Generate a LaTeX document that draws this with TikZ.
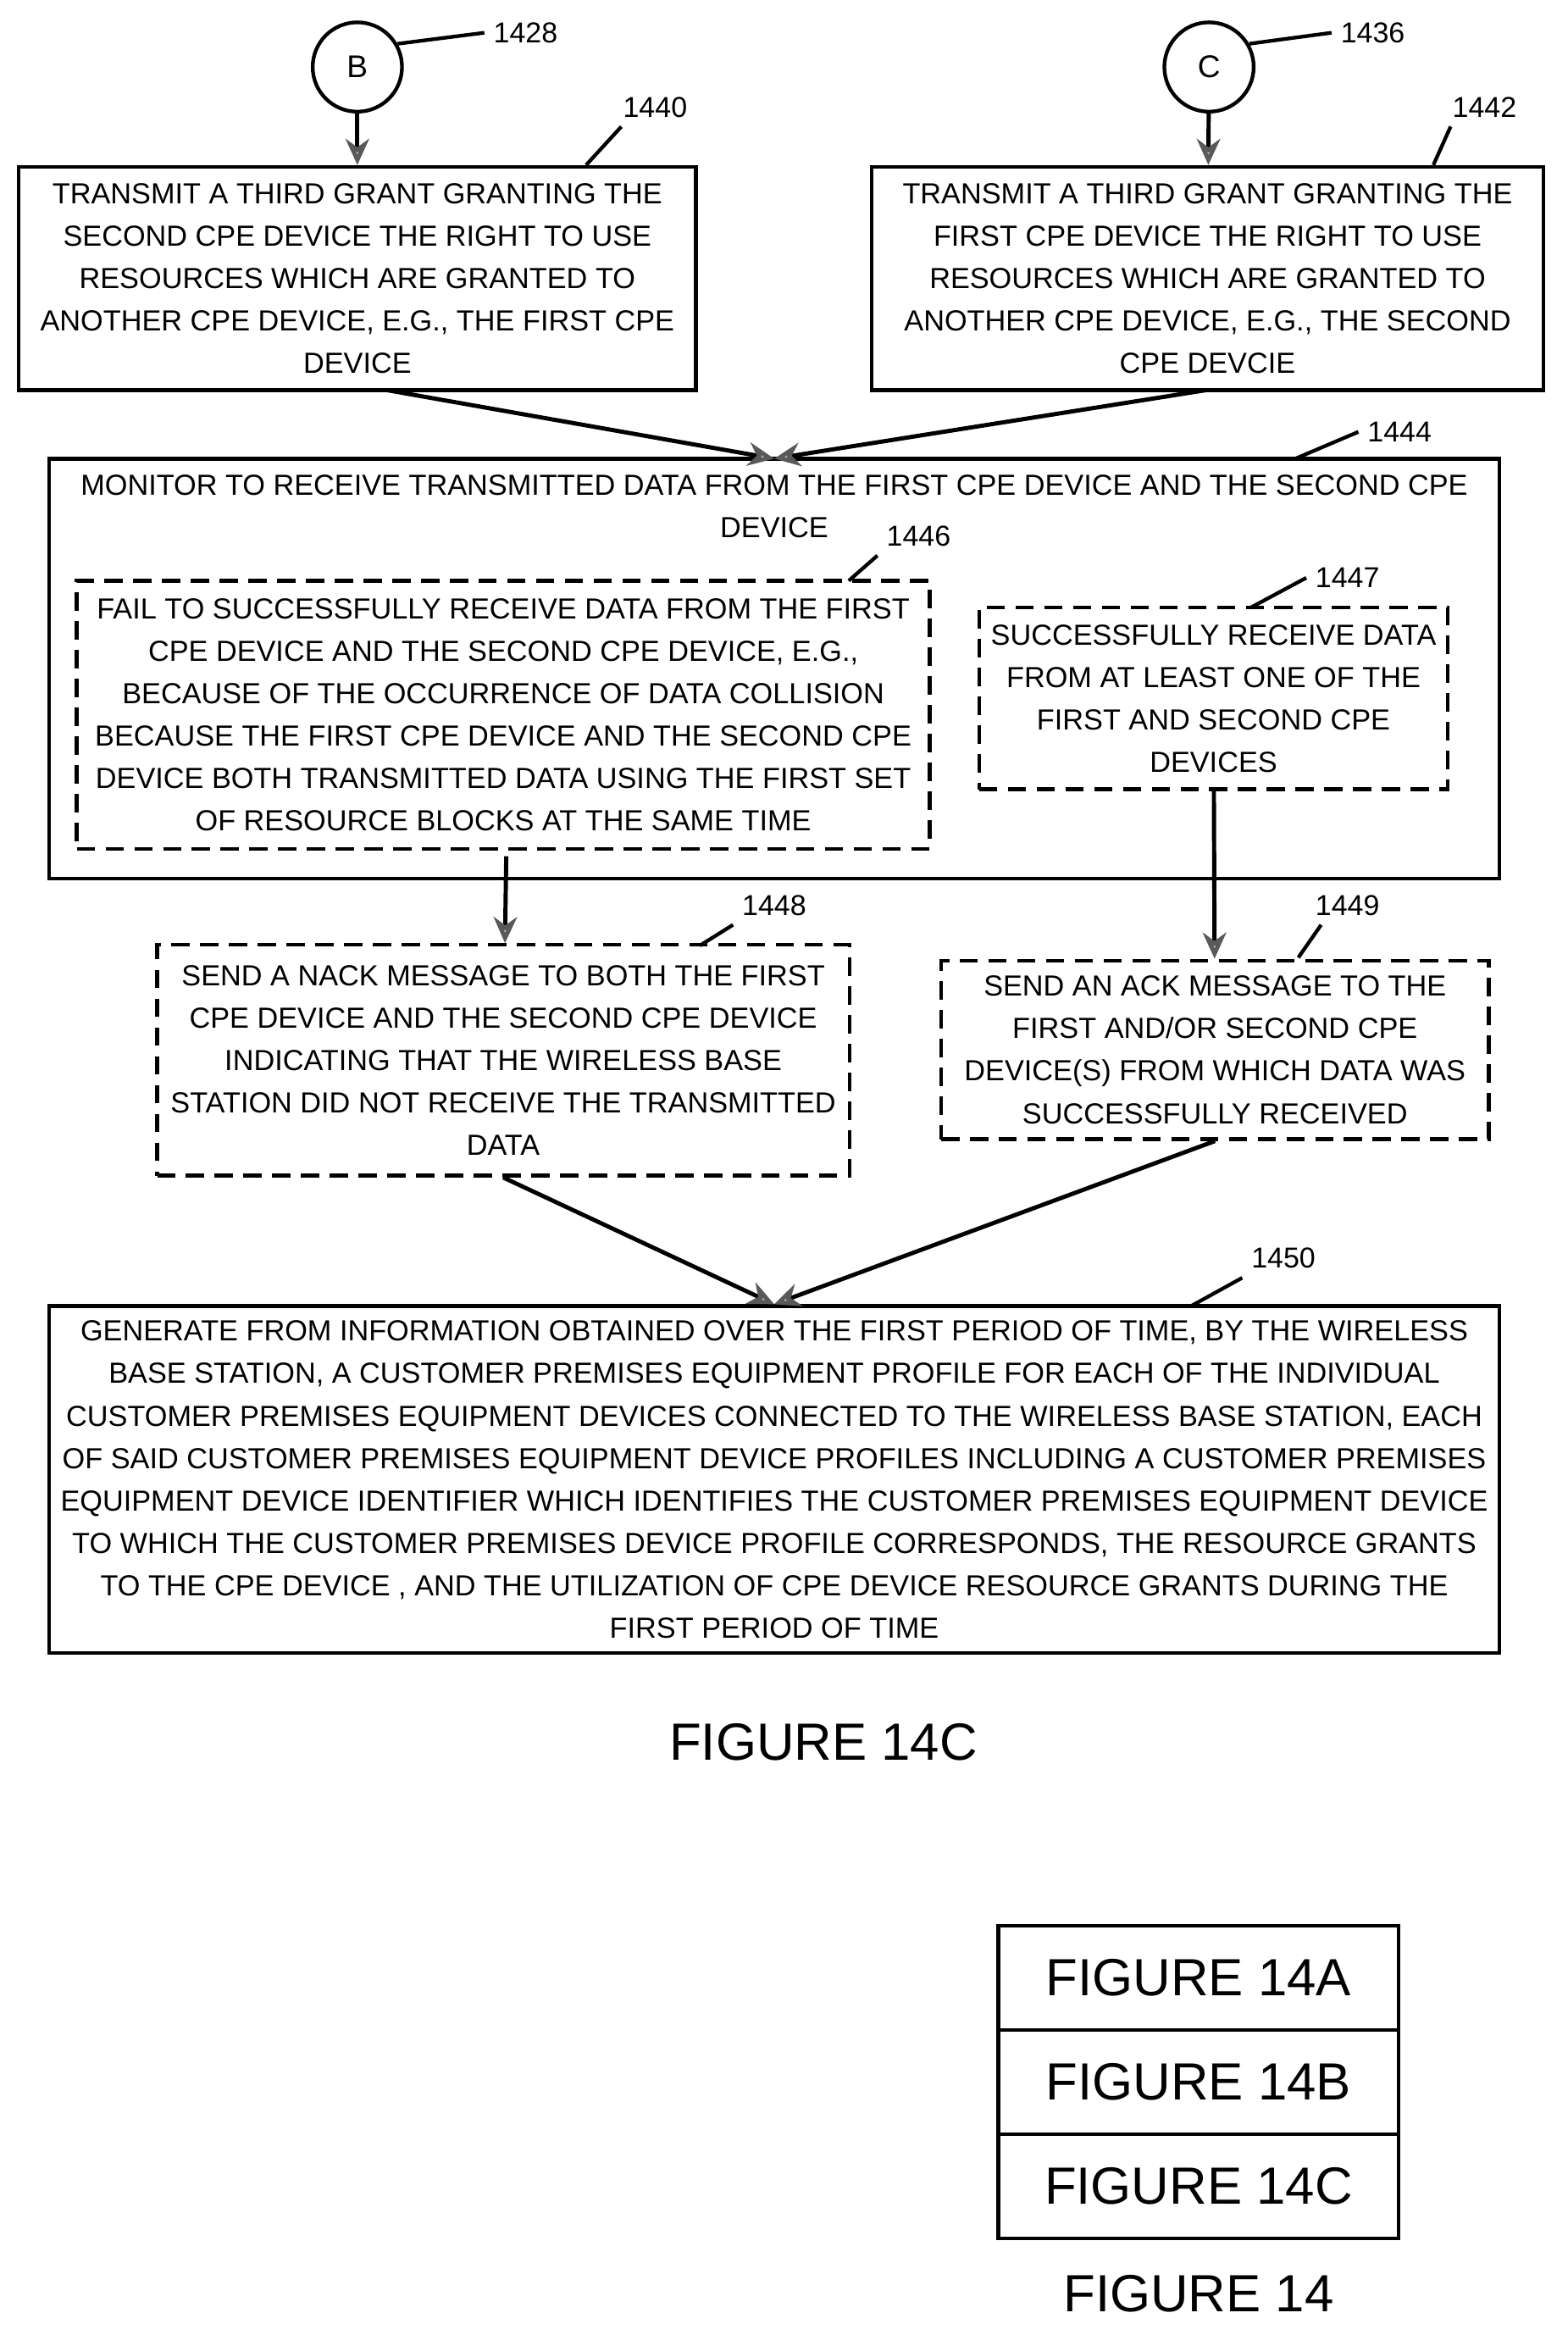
\documentclass[tikz,border=0pt]{standalone}
\usepackage{fontspec}
\setmainfont{Liberation Sans}
\usetikzlibrary{positioning,arrows.meta,calc}
\tikzset{
  box/.style={draw,line width=1.4pt,align=center,inner sep=2pt,font=\fontsize{11.1}{16.2}\selectfont},
  dbox/.style={box,dash pattern=on 7pt off 4pt},
  conn/.style={line width=1.6pt,-{Stealth[length=10pt,width=9pt,fill=gray!40,color=gray!70!black]}},
  lead/.style={line width=1.4pt},
  ref/.style={font=\fontsize{11}{13}\selectfont},
  big/.style={font=\fontsize{20}{24}\selectfont},
}
\begin{document}
\begin{tikzpicture}[x=0.02cm,y=-0.02cm]
\useasboundingbox (0,0) rectangle (1053,1568);
% connectors in
\node[draw,circle,line width=1.4pt,minimum size=1.2cm,font=\fontsize{12}{14}\selectfont] (b) at (240,45) {B};
\node[draw,circle,line width=1.4pt,minimum size=1.2cm,font=\fontsize{12}{14}\selectfont] (c) at (812,45) {C};
\node[ref] (r1428) at (353,22) {1428};
\node[ref] (r1436) at (922,22) {1436};
\draw[lead] (b.30) -- (r1428.west);
\draw[lead] (c.30) -- (r1436.west);
% first row
\node[box,minimum width=9.1cm,minimum height=3cm] (g2) at (240,187) {TRANSMIT A THIRD GRANT GRANTING THE\\SECOND CPE DEVICE THE RIGHT TO USE\\RESOURCES WHICH ARE GRANTED TO\\ANOTHER CPE DEVICE, E.G., THE FIRST CPE\\DEVICE};
\node[box,minimum width=9.02cm,minimum height=3cm] (g1) at (811,187) {TRANSMIT A THIRD GRANT GRANTING THE\\FIRST CPE DEVICE THE RIGHT TO USE\\RESOURCES WHICH ARE GRANTED TO\\ANOTHER CPE DEVICE, E.G., THE SECOND\\CPE DEVCIE};
\node[ref] (r1440) at (440,72) {1440};
\node[ref] (r1442) at (997,72) {1442};
\draw[lead] ($(g2.north east)+(-75,0)$) -- ($(r1440.south west)+(5,0)$);
\draw[lead] ($(g1.north east)+(-75,0)$) -- ($(r1442.south west)+(5,0)$);
\draw[conn] (b) -- (g2);
\draw[conn] (c) -- (g1);
% monitor
\draw[box] (33,308) rectangle (1007,590);
\coordinate (mon) at (520,308);
\node[box,draw=none] at (520,340) {MONITOR TO RECEIVE TRANSMITTED DATA FROM THE FIRST CPE DEVICE AND THE SECOND CPE\\DEVICE};
\node[ref] (r1444) at (940,290) {1444};
\draw[lead] (870,308) -- (r1444.west);
\draw[conn] (260,262) -- (mon);
\draw[conn] (810,262) -- (mon);
\node[dbox,minimum width=11.46cm,minimum height=3.6cm] (fail) at (338,480) {FAIL TO SUCCESSFULLY RECEIVE DATA FROM THE FIRST\\CPE DEVICE AND THE SECOND CPE DEVICE, E.G.,\\BECAUSE OF THE OCCURRENCE OF DATA COLLISION\\BECAUSE THE FIRST CPE DEVICE AND THE SECOND CPE\\DEVICE BOTH TRANSMITTED DATA USING THE FIRST SET\\OF RESOURCE BLOCKS AT THE SAME TIME};
\node[dbox,minimum width=6.3cm,minimum height=2.44cm] (succ) at (815,469) {SUCCESSFULLY RECEIVE DATA\\FROM AT LEAST ONE OF THE\\FIRST AND SECOND CPE\\DEVICES};
\node[ref] (r1446) at (617,360) {1446};
\node[ref] (r1447) at (905,388) {1447};
\draw[lead] (570,390) -- (r1446.south west);
\draw[lead] (840,408) -- (r1447.west);
% responses
\node[dbox,minimum width=9.3cm,minimum height=3.1cm] (nack) at (338,712) {SEND A NACK MESSAGE TO BOTH THE FIRST\\CPE DEVICE AND THE SECOND CPE DEVICE\\INDICATING THAT THE WIRELESS BASE\\STATION DID NOT RECEIVE THE TRANSMITTED\\DATA};
\node[dbox,minimum width=7.36cm,minimum height=2.4cm] (ack) at (816,705) {SEND AN ACK MESSAGE TO THE\\FIRST AND/OR SECOND CPE\\DEVICE(S) FROM WHICH DATA WAS\\SUCCESSFULLY RECEIVED};
\node[ref] (r1448) at (520,608) {1448};
\node[ref] (r1449) at (905,608) {1449};
\draw[lead] (470,635) -- (r1448.south west);
\draw[lead] (872,643) -- ($(r1449.south west)+(10,0)$);
\draw[conn] (340,575) -- (nack);
\draw[conn] (succ) -- (ack);
% profile
\node[box,minimum width=19.48cm,minimum height=4.66cm] (prof) at (520,993.5) {GENERATE FROM INFORMATION OBTAINED OVER THE FIRST PERIOD OF TIME, BY THE WIRELESS\\BASE STATION, A CUSTOMER PREMISES EQUIPMENT PROFILE FOR EACH OF THE INDIVIDUAL\\CUSTOMER PREMISES EQUIPMENT DEVICES CONNECTED TO THE WIRELESS BASE STATION, EACH\\OF SAID CUSTOMER PREMISES EQUIPMENT DEVICE PROFILES INCLUDING A CUSTOMER PREMISES\\EQUIPMENT DEVICE IDENTIFIER WHICH IDENTIFIES THE CUSTOMER PREMISES EQUIPMENT DEVICE\\TO WHICH THE CUSTOMER PREMISES DEVICE PROFILE CORRESPONDS, THE RESOURCE GRANTS\\TO THE CPE DEVICE , AND THE UTILIZATION OF CPE DEVICE RESOURCE GRANTS DURING THE\\FIRST PERIOD OF TIME};
\node[ref] (r1450) at (862,845) {1450};
\draw[lead] (800,877) -- (r1450.south west);
\draw[conn] (nack.south) -- (prof.north);
\draw[conn] (ack.south) -- (prof.north);
% captions
\node[big] (cap) at (553,1170) {FIGURE 14C};
\foreach \t/\y in {A/1328,B/1398,C/1468}
  \node[draw,line width=1.4pt,minimum width=5.38cm,minimum height=1.4cm,big] (f\t) at (805,\y) {FIGURE 14\t};
\node[big] (fig14) at (805,1540) {FIGURE 14};
\end{tikzpicture}
\end{document}
